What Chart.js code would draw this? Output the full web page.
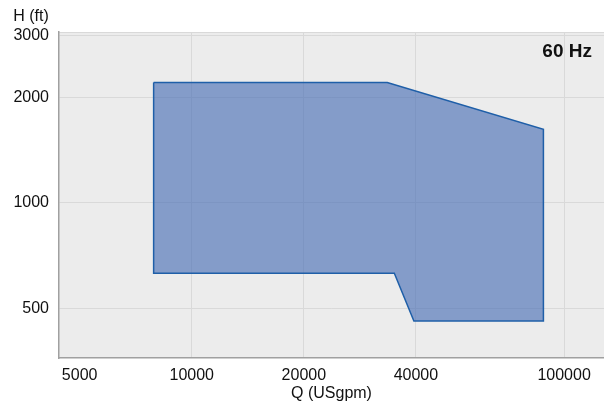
<!DOCTYPE html>
<html>
<head>
<meta charset="utf-8">
<script src="https://cdn.jsdelivr.net/npm/chart.js@4.4.1/dist/chart.umd.min.js"></script>
<style>
    html, body { margin: 0; padding: 0; background: #ffffff; }
    canvas { display: block; }
</style>
</head>
<body>
<canvas id="rangeChart" width="604" height="405"></canvas>
<script>
// operating range outline, corner by corner (closed)
const flowQ = [7900, 33500, 88000, 88000, 39500, 35000, 7900, 7900];
const headH = [2200, 2200, 1620, 460, 460, 630, 630, 2200];
const xTickValues = [5000, 10000, 20000, 40000, 100000];
const yTickValues = [500, 1000, 2000, 3000];

const FONT = "'Liberation Sans', Arial, sans-serif";

function createRangeChart() {
    let chartStatus = Chart.getChart("rangeChart");
    if (chartStatus != undefined) {
        chartStatus.destroy();
    }

    const points = flowQ.map((q, i) => ({ x: q, y: headH[i] }));

    const plotBackground = {
        id: 'plotBackground',
        beforeDraw(chart) {
            const { ctx, chartArea: { left, top, right, width, height } } = chart
            ctx.save()
            ctx.fillStyle = '#ececec'
            ctx.fillRect(left, top, width, height)
            // light line along the top edge
            ctx.strokeStyle = '#d9d9d9'
            ctx.lineWidth = 1
            ctx.beginPath()
            ctx.moveTo(left, top + 0.5)
            ctx.lineTo(right, top + 0.5)
            ctx.stroke()
            ctx.restore()
        }
    }

    const cornerText = {
        id: 'cornerText',
        afterDraw(chart) {
            const { ctx, chartArea: { right, top } } = chart
            ctx.save()
            ctx.fillStyle = '#111'
            ctx.textBaseline = 'middle'
            ctx.font = "16px " + FONT
            ctx.textAlign = 'center'
            ctx.fillText("H (ft)", 31, 17)
            ctx.font = "bold 19px " + FONT
            ctx.textAlign = 'right'
            ctx.fillText("60 Hz", right - 12, top + 20)
            ctx.restore()
        }
    }

    const config = {
        type: "scatter",
        data: {
            datasets: [
                {
                    label: "60 Hz",
                    data: points,
                    showLine: true,
                    fill: 'shape',
                    backgroundColor: "rgba(63, 104, 179, 0.6)",
                    borderColor: "#1f5fa8",
                    borderWidth: 1.5,
                    pointRadius: 0,
                    tension: 0
                },
            ],
        },
        options: {
            responsive: false,
            animation: false,
            layout: {
                padding: { top: 32, right: 0, bottom: 0, left: 0 }
            },
            plugins: {
                legend: { display: false },
                tooltip: { enabled: false },
            },
            scales: {
                x: {
                    type: 'logarithmic',
                    min: 4400,
                    max: 128000,
                    afterBuildTicks(scale) {
                        scale.ticks = xTickValues.map(v => ({ value: v }))
                    },
                    afterFit(scale) {
                        scale.height = 47
                    },
                    ticks: {
                        color: '#111',
                        font: { family: FONT, size: 16 },
                        padding: 8,
                        maxRotation: 0,
                        callback: (v) => String(v)
                    },
                    grid: {
                        drawTicks: false,
                        color: (c) => (c.tick && c.tick.value === 5000) ? 'rgba(0,0,0,0)' : '#d9d9d9',
                        lineWidth: 1
                    },
                    border: { color: '#a0a0a0', width: 1.5 },
                    title: {
                        display: true,
                        text: 'Q (USgpm)',
                        color: '#111',
                        font: { family: FONT, size: 16 },
                        padding: { top: 0, bottom: 2 }
                    }
                },
                y: {
                    type: 'logarithmic',
                    min: 361,
                    max: 3067,
                    afterBuildTicks(scale) {
                        scale.ticks = yTickValues.map(v => ({ value: v }))
                    },
                    afterFit(scale) {
                        scale.width = 59
                    },
                    ticks: {
                        color: '#111',
                        font: { family: FONT, size: 16 },
                        padding: 10,
                        callback: (v) => String(v)
                    },
                    grid: {
                        drawTicks: false,
                        color: '#d9d9d9',
                        lineWidth: 1
                    },
                    border: { color: '#a0a0a0', width: 1.5 }
                }
            }
        },
        plugins: [plotBackground, cornerText]
    };

    const rangeChart = new Chart(
        document.getElementById("rangeChart"),
        config
    );
}
createRangeChart();
</script>
</body>
</html>
